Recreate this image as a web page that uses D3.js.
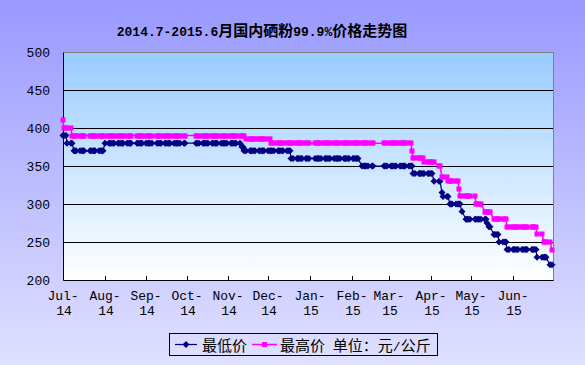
<!DOCTYPE html>
<html><head><meta charset="utf-8">
<script src="https://cdn.jsdelivr.net/npm/d3@7"></script>
<style>body{margin:0;background:#fff}svg{display:block}</style>
</head><body>
<svg id="chart" width="585" height="365"></svg>
<script>
// ---------------- data ----------------
const titleText = "2014.7-2015.6月国内硒粉99.9%价格走势图";
const seriesNames = ["最低价", "最高价 单位：元/公斤"];
const periodStart = "2014-07-01";
const periodEnd = "2015-07-01";
const monthTicks = ["2014-07-01","2014-08-01","2014-09-01","2014-10-01","2014-11-01","2014-12-01",
                    "2015-01-01","2015-02-01","2015-03-01","2015-04-01","2015-05-01","2015-06-01"];
const monthLabels = [["Jul-","14"],["Aug-","14"],["Sep-","14"],["Oct-","14"],["Nov-","14"],["Dec-","14"],
                     ["Jan-","15"],["Feb-","15"],["Mar-","15"],["Apr-","15"],["May-","15"],["Jun-","15"]];
const yTicks = [200, 250, 300, 350, 400, 450, 500];
// non-trading days (public holidays) and days without quotes
const holidays = ["2014-09-08","2014-10-01","2014-10-02","2014-10-03","2014-10-06","2014-10-07",
                  "2015-01-01","2015-01-02","2015-02-18","2015-02-19","2015-02-20","2015-02-23","2015-02-24",
                  "2015-04-06","2015-05-01","2015-06-22"];
const noDataDays = ["2014-07-18","2014-08-22"];
// price changes: [date from which the price applies, price 元/公斤]
const lowSteps = [["2014-07-01",390],["2014-07-04",380],["2014-07-09",370],["2014-08-01",380],
                  ["2014-11-11",375],["2014-11-13",370],["2014-12-18",360],["2015-02-09",350],
                  ["2015-03-19",340],["2015-04-03",330],["2015-04-09",315],["2015-04-10",310],
                  ["2015-04-15",300],["2015-04-24",290],["2015-04-27",280],["2015-05-13",275],
                  ["2015-05-14",270],["2015-05-18",260],["2015-05-22",250],["2015-05-28",240],
                  ["2015-06-19",230],["2015-06-29",220]];
const highSteps = [["2014-07-01",410],["2014-07-02",400],["2014-07-08",390],["2014-11-14",385],
                   ["2014-12-03",380],["2015-03-18",370],["2015-03-19",360],["2015-03-27",355],
                   ["2015-04-07",350],["2015-04-09",335],["2015-04-14",330],["2015-04-22",320],
                   ["2015-04-23",310],["2015-05-05",300],["2015-05-11",290],["2015-05-18",280],
                   ["2015-05-28",270],["2015-06-19",260],["2015-06-24",250],["2015-06-30",240]];

// ---------------- build ----------------
const parse = d3.timeParse("%Y-%m-%d");
const fmt = d3.timeFormat("%Y-%m-%d");
const skip = new Set([...holidays, ...noDataDays]);
const days = d3.timeDay.range(parse(periodStart), parse(periodEnd))
  .filter(d => d.getDay() !== 0 && d.getDay() !== 6 && !skip.has(fmt(d)));
function stepSeries(steps) {
  const s = steps.map(([d, v]) => [parse(d), v]);
  return days.map(d => { let v; for (const [sd, sv] of s) if (sd <= d) v = sv; return {date: d, value: v}; });
}
const lowData = stepSeries(lowSteps);
const highData = stepSeries(highSteps);

const W = 585, H = 365;
const plot = {l: 63, r: 553, t: 52, b: 280};
const svg = d3.select("#chart");
const defs = svg.append("defs");
const bgGrad = defs.append("linearGradient").attr("id", "bg").attr("x1", 0).attr("y1", 0).attr("x2", 0).attr("y2", 1);
bgGrad.append("stop").attr("offset", 0).attr("stop-color", "#9999ff");
bgGrad.append("stop").attr("offset", 1).attr("stop-color", "#e0e0ff");
const plotGrad = defs.append("linearGradient").attr("id", "pg").attr("x1", 0).attr("y1", 0).attr("x2", 0).attr("y2", 1);
plotGrad.append("stop").attr("offset", 0).attr("stop-color", "#99ccff");
plotGrad.append("stop").attr("offset", 1).attr("stop-color", "#ffffff");

svg.append("rect").attr("width", W).attr("height", H).attr("fill", "url(#bg)");

const x = d3.scaleTime().domain([parse(periodStart), parse(periodEnd)]).rangeRound([plot.l, plot.r]);
const y = d3.scaleLinear().domain([200, 500]).range([plot.b, plot.t]);

svg.append("rect").attr("x", plot.l + 0.5).attr("y", plot.t + 0.5)
  .attr("width", plot.r - plot.l).attr("height", plot.b - plot.t)
  .attr("fill", "url(#pg)").attr("stroke", "#808080").attr("stroke-width", 1);

const latin = "'Liberation Mono', monospace";
const cjk = "'Noto Sans CJK SC', sans-serif";
const latinSize = 13;
function addRuns(textSel, str, lSize, cSize) {
  const runs = [];
  for (const ch of str) {
    const isC = /[\u3000-\u9fff\uff00-\uffef]/.test(ch);
    if (runs.length && runs[runs.length - 1].c === isC) runs[runs.length - 1].s += ch;
    else runs.push({c: isC, s: ch});
  }
  runs.forEach(r => textSel.append("tspan")
    .attr("font-family", r.c ? cjk : latin)
    .attr("font-size", r.c ? cSize : lSize)
    .attr("xml:space", "preserve")
    .text(r.s));
}

// gridlines
const grid = svg.append("g").attr("transform", `translate(${plot.l},0)`)
  .call(d3.axisLeft(y).tickValues(yTicks.filter(v => v > 200 && v < 500))
    .tickSize(-(plot.r - plot.l)).tickFormat(""));
grid.select(".domain").remove();
grid.selectAll("line").attr("stroke", "#000");

// y axis
const yAxis = svg.append("g").attr("transform", `translate(${plot.l},0)`)
  .call(d3.axisLeft(y).tickValues(yTicks).tickSize(0).tickPadding(13).tickFormat(d3.format("d")));
yAxis.select(".domain").attr("stroke", "#000");
yAxis.selectAll("text").attr("font-family", latin).attr("font-size", latinSize).attr("fill", "#000");

// x axis
const tickDates = monthTicks.map(parse);
const xAxis = svg.append("g").attr("transform", `translate(0,${plot.b})`)
  .call(d3.axisBottom(x).tickValues(tickDates.slice(1)).tickSize(-4).tickSizeOuter(0).tickFormat(""));
xAxis.select(".domain").attr("stroke", "#000");
xAxis.selectAll("line").attr("stroke", "#000");
const xl = svg.append("g").attr("font-family", latin).attr("font-size", latinSize).attr("fill", "#000")
  .attr("text-anchor", "middle");
tickDates.forEach((d, i) => {
  const t = xl.append("text").attr("x", x(d)).attr("y", 300);
  t.append("tspan").attr("x", x(d)).text(monthLabels[i][0]);
  t.append("tspan").attr("x", x(d) + 1).attr("y", 315).text(monthLabels[i][1]);
});

// series
const line = d3.line().x(d => x(d.date)).y(d => y(d.value));
svg.append("path").datum(lowData).attr("d", line).attr("fill", "none")
  .attr("stroke", "#000080").attr("stroke-width", 1.25);
svg.append("g").selectAll("path").data(lowData).join("path")
  .attr("d", d => `M${x(d.date)},${y(d.value) - 3.5}l3.5,3.5l-3.5,3.5l-3.5,-3.5z`)
  .attr("fill", "#000080");
svg.append("path").datum(highData).attr("d", line).attr("fill", "none")
  .attr("stroke", "#ff00ff").attr("stroke-width", 1.5);
svg.append("g").selectAll("rect").data(highData).join("rect")
  .attr("x", d => x(d.date) - 2.5).attr("y", d => Math.round(y(d.value)) - 2.5)
  .attr("width", 5).attr("height", 5).attr("fill", "#ff00ff");

// title
const title = svg.append("text").attr("x", 262).attr("y", 36).attr("text-anchor", "middle")
  .attr("font-weight", "bold").attr("fill", "#000");
addRuns(title, titleText, latinSize, 15);

// legend
const lg = svg.append("g");
lg.append("rect").attr("x", 169.5).attr("y", 333.5).attr("width", 268).attr("height", 22)
  .attr("fill", "none").attr("stroke", "#000");
lg.append("line").attr("x1", 175).attr("x2", 197).attr("y1", 344.5).attr("y2", 344.5)
  .attr("stroke", "#000080").attr("stroke-width", 1.25);
lg.append("path").attr("d", "M186,341l3.5,3.5l-3.5,3.5l-3.5,-3.5z").attr("fill", "#000080");
const t1 = lg.append("text").attr("x", 202).attr("y", 350.5).attr("fill", "#000");
addRuns(t1, seriesNames[0], latinSize, 15);
lg.append("line").attr("x1", 252).attr("x2", 277).attr("y1", 344.5).attr("y2", 344.5)
  .attr("stroke", "#ff00ff").attr("stroke-width", 1.5);
lg.append("rect").attr("x", 262).attr("y", 342).attr("width", 5).attr("height", 5).attr("fill", "#ff00ff");
const t2 = lg.append("text").attr("x", 280).attr("y", 350.5).attr("fill", "#000");
addRuns(t2, seriesNames[1], latinSize, 15);
</script>
</body></html>
